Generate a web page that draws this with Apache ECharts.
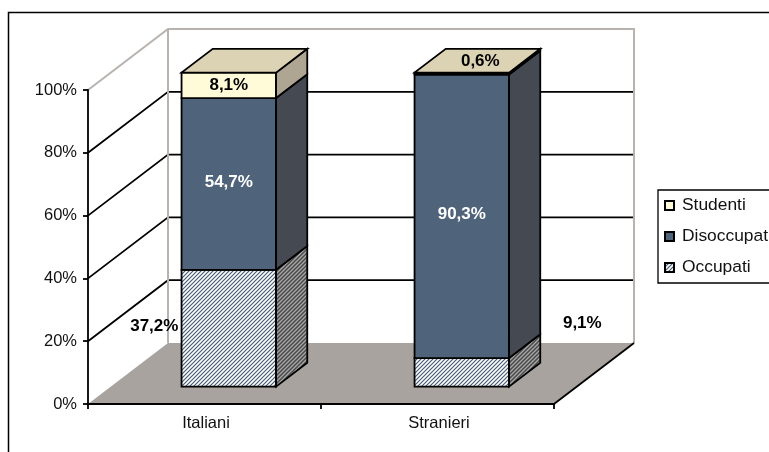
<!DOCTYPE html>
<html>
<head>
<meta charset="utf-8">
<style>html,body{margin:0;padding:0;background:#fff;overflow:hidden}#chart{width:769px;height:452px}</style>
<script src="https://cdn.jsdelivr.net/npm/echarts@6/dist/echarts.min.js"></script>
</head>
<body>
<div id="chart"></div>
<script>
// Values, in percent of each group
const categories = ['Italiani', 'Stranieri'];
const occupati = [37.2, 9.1];
const disoccupati = [54.7, 90.3];
const studenti = [8.1, 0.6];
const gridTicks = [20, 40, 60, 80];

// Oblique projection of the depth axis
const DEPTH_X = 80, DEPTH_Y = -61;
const BAR_NEAR = 0.285, BAR_FAR = 0.675;
const BAR_RATIO = 94.5 / 233;
const BAR_NUDGE = 1.5;
const LINE = 1.8;
const FONT = '"Liberation Sans", Arial, sans-serif';

function hatch(bg, fg, width) {
  const c = document.createElement('canvas');
  c.width = c.height = 4;
  const g = c.getContext('2d');
  g.fillStyle = bg; g.fillRect(0, 0, 4, 4);
  g.strokeStyle = fg; g.lineWidth = width;
  [[0, 4, 4, 0], [-2, 2, 2, -2], [2, 6, 6, 2]].forEach(s => {
    g.beginPath(); g.moveTo(s[0], s[1]); g.lineTo(s[2], s[3]); g.stroke();
  });
  return { image: c, repeat: 'repeat' };
}

const palette = {
  Occupati: { front: hatch('#ffffff', '#4a5d78', 1.2), side: hatch('#a8a8a8', '#484848', 1.5) },
  Disoccupati: { front: '#4f637b', side: '#454a52' },
  Studenti: { front: '#fffbd8', side: '#aea592', top: '#dcd2b4' }
};

const stack = [
  { name: 'Occupati', values: occupati, ink: '#000', shift: [[-74.5, -2], [120.5, -49]] },
  { name: 'Disoccupati', values: disoccupati, ink: '#fff', shift: [[0, -2], [0, -2]] },
  { name: 'Studenti', values: studenti, ink: '#000', shift: [[0, 0], [18.5, -12]] }
];

const poly = (points, fill) => ({
  type: 'polygon',
  shape: { points },
  style: { fill, stroke: '#000', lineWidth: LINE, lineJoin: 'miter' }
});

function segmentSeries(layer, index) {
  const below = stack.slice(0, index);
  const isTop = index === stack.length - 1;
  const colors = palette[layer.name];
  return {
    type: 'custom',
    name: layer.name,
    coordinateSystem: 'cartesian2d',
    z: 5 + index,
    silent: true,
    itemStyle: { color: colors.front, borderColor: '#000', borderWidth: 1.2 },
    data: categories.map((c, i) => {
      const start = below.reduce((sum, b) => sum + b.values[i], 0);
      return [i, start, start + layer.values[i]];
    }),
    renderItem(params, api) {
      const i = api.value(0);
      const band = api.size([1, 0])[0];
      const half = band * BAR_RATIO / 2;
      const at = (side, value, depth) => {
        const p = api.coord([i, value]);
        return [p[0] + BAR_NUDGE + side * half + depth * DEPTH_X, p[1] + depth * DEPTH_Y];
      };
      const lo = api.value(1), hi = api.value(2);
      const children = [
        poly([at(-1, lo, BAR_NEAR), at(1, lo, BAR_NEAR), at(1, hi, BAR_NEAR), at(-1, hi, BAR_NEAR)], colors.front),
        poly([at(1, lo, BAR_NEAR), at(1, lo, BAR_FAR), at(1, hi, BAR_FAR), at(1, hi, BAR_NEAR)], colors.side)
      ];
      if (isTop) {
        children.push(poly([at(-1, hi, BAR_NEAR), at(1, hi, BAR_NEAR), at(1, hi, BAR_FAR), at(-1, hi, BAR_FAR)], colors.top));
      }
      const mid = at(0, (lo + hi) / 2, BAR_NEAR);
      const shift = layer.shift[i];
      children.push({
        type: 'text',
        z2: 20,
        style: {
          text: (hi - lo).toFixed(1).replace('.', ',') + '%',
          x: mid[0] + shift[0],
          y: mid[1] + shift[1],
          align: 'center',
          verticalAlign: 'middle',
          font: 'bold 17px ' + FONT,
          fill: layer.ink
        }
      });
      return { type: 'group', children };
    }
  };
}

// Depth gridlines: diagonal along the side wall, then across the back wall
const gridSeries = {
  type: 'custom',
  coordinateSystem: 'cartesian2d',
  z: 2,
  silent: true,
  data: gridTicks.map(v => [0, v]),
  renderItem(params, api) {
    const box = params.coordSys;
    const y = api.coord([0, api.value(1)])[1];
    return {
      type: 'polyline',
      shape: { points: [[box.x, y], [box.x + DEPTH_X, y + DEPTH_Y], [box.x + box.width + DEPTH_X, y + DEPTH_Y]] },
      style: { fill: null, stroke: '#000', lineWidth: LINE }
    };
  }
};

// Floor plane and the grey outline of the walls
const wallSeries = {
  type: 'custom',
  coordinateSystem: 'cartesian2d',
  z: 3,
  silent: true,
  data: [[0, 0]],
  renderItem(params, api) {
    const box = params.coordSys;
    const left = box.x, right = box.x + box.width, bottom = box.y + box.height, top = box.y;
    const wallColor = '#b8b3af';
    return {
      type: 'group',
      children: [
        {
          type: 'polygon',
          shape: { points: [[left, bottom], [left + DEPTH_X, bottom + DEPTH_Y], [right + DEPTH_X, bottom + DEPTH_Y], [right, bottom]] },
          style: { fill: '#a9a3a0' }
        },
        {
          type: 'polyline',
          shape: { points: [[left, top], [left + DEPTH_X, top + DEPTH_Y], [right + DEPTH_X, top + DEPTH_Y], [right + DEPTH_X, bottom + DEPTH_Y]] },
          style: { fill: null, stroke: wallColor, lineWidth: 2 }
        },
        {
          type: 'line',
          shape: { x1: left + DEPTH_X, y1: top + DEPTH_Y, x2: left + DEPTH_X, y2: bottom + DEPTH_Y },
          style: { stroke: wallColor, lineWidth: 2 }
        },
        {
          type: 'line',
          shape: { x1: right, y1: bottom, x2: right + DEPTH_X, y2: bottom + DEPTH_Y },
          style: { stroke: '#000', lineWidth: LINE }
        }
      ]
    };
  }
};

const chart = echarts.init(document.getElementById('chart'), null, { renderer: 'canvas' });
chart.setOption({
  animation: false,
  backgroundColor: '#fff',
  textStyle: { fontFamily: FONT },
  graphic: [{
    type: 'rect',
    silent: true,
    z: -10,
    shape: { x: 8.5, y: 12.5, width: 800, height: 500 },
    style: { fill: 'none', stroke: '#000', lineWidth: 1.5 }
  }],
  grid: { left: 88, top: 90, width: 466, height: 314, containLabel: false },
  xAxis: {
    type: 'category',
    data: categories,
    z: 4,
    axisLine: { lineStyle: { color: '#000', width: LINE } },
    axisTick: { show: true, length: 5, lineStyle: { color: '#000', width: LINE } },
    axisLabel: { color: '#111', fontSize: 16.5, margin: 11, fontFamily: FONT, padding: [0, 0, 0, 3] },
    splitLine: { show: false }
  },
  yAxis: {
    type: 'value',
    min: 0, max: 100, interval: 20,
    z: 4,
    axisLine: { show: true, lineStyle: { color: '#000', width: LINE } },
    axisTick: { show: true, length: 5, lineStyle: { color: '#000', width: LINE } },
    axisLabel: { color: '#111', fontSize: 16.5, margin: 11, formatter: '{value}%', fontFamily: FONT },
    splitLine: { show: false }
  },
  legend: {
    orient: 'vertical',
    left: 658,
    top: 190,
    width: 140,
    padding: [7, 8, 7, 6],
    itemGap: 14,
    itemWidth: 9,
    itemHeight: 9,
    icon: 'rect',
    borderColor: '#000',
    borderWidth: 1.3,
    backgroundColor: '#fff',
    data: ['Studenti', 'Disoccupati', 'Occupati'],
    textStyle: { color: '#111', fontSize: 17.4, fontFamily: FONT, padding: [0, 0, 0, 3] }
  },
  series: [gridSeries, wallSeries].concat(stack.map(segmentSeries))
});
</script>
</body>
</html>
